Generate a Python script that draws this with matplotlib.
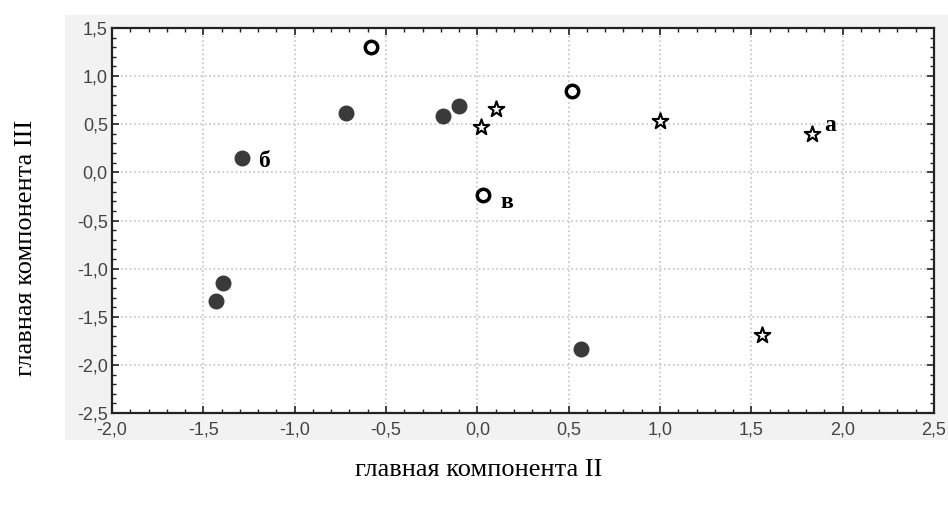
import numpy as np
import matplotlib.pyplot as plt
from matplotlib.ticker import MultipleLocator, FuncFormatter
from matplotlib.patches import Rectangle

# filled circles
fill_x = [-1.29, -0.72, -0.19, -0.10, -1.39, -1.43, 0.57]
fill_y = [0.15, 0.62, 0.59, 0.69, -1.15, -1.34, -1.83]
# open circles
open_x = [-0.58, 0.52, 0.03]
open_y = [1.30, 0.85, -0.24]
# stars
star_x = [0.02, 0.10, 1.00, 1.83, 1.56]
star_y = [0.47, 0.66, 0.53, 0.40, -1.69]

labels = ['а', 'б', 'в']
label_x = [1.93, -1.17, 0.16]
label_y = [0.49, 0.11, -0.31]

fig = plt.figure(figsize=(9.48, 5.07), dpi=100)
bg = Rectangle((65 / 948, 1 - 440 / 507), 883 / 948, 425 / 507,
               transform=fig.transFigure, facecolor='#f2f2f2',
               edgecolor='none', zorder=-10)
fig.add_artist(bg)
ax = fig.add_axes([112 / 948, 1 - 413 / 507, 822 / 948, 385 / 507])
ax.set_facecolor('white')

ax.scatter(fill_x, fill_y, s=110, color='#3a3a3a', zorder=3)
ax.scatter(open_x, open_y, s=80, facecolor='white', edgecolor='black',
           linewidth=2.5, zorder=3)
ax.scatter(star_x, star_y, s=140, marker='*', facecolor='white',
           edgecolor='black', linewidth=1.5, zorder=3)
for t, x, y in zip(labels, label_x, label_y):
    ax.text(x, y, t, fontsize=17, fontweight='bold', family='Liberation Serif',
            ha='center', va='center', zorder=4)

ax.set_xlim(-2.0, 2.5)
ax.set_ylim(-2.5, 1.5)
ax.xaxis.set_major_locator(MultipleLocator(0.5))
ax.yaxis.set_major_locator(MultipleLocator(0.5))
ax.xaxis.set_minor_locator(MultipleLocator(0.1))
ax.yaxis.set_minor_locator(MultipleLocator(0.1))
fmt = FuncFormatter(lambda v, p: f'{v:.1f}'.replace('.', ','))
ax.xaxis.set_major_formatter(fmt)
ax.yaxis.set_major_formatter(fmt)
ax.tick_params(which='both', direction='in', top=True, right=True,
               labelsize=13, color='#222222')
ax.tick_params(which='major', length=5, width=1.2, pad=3)
ax.tick_params(axis='x', which='major', pad=6)
ax.tick_params(which='minor', length=3, width=1)
for lab in ax.get_xticklabels() + ax.get_yticklabels():
    lab.set_family('Liberation Sans')
    lab.set_color('#444444')
for sp in ax.spines.values():
    sp.set_linewidth(1.6)
    sp.set_color('#222222')
ax.grid(True, which='major', linestyle=':', color='#c4c4c4', linewidth=1.2)

fig.text(26 / 948, 1 - 248 / 507, 'главная компонента III', rotation=90,
         ha='center', va='center', fontsize=19, family='Liberation Serif')
fig.text(479 / 948, 1 - 470 / 507, 'главная компонента II',
         ha='center', va='center', fontsize=19, family='Liberation Serif')

fig.savefig('out.png', dpi=100)
